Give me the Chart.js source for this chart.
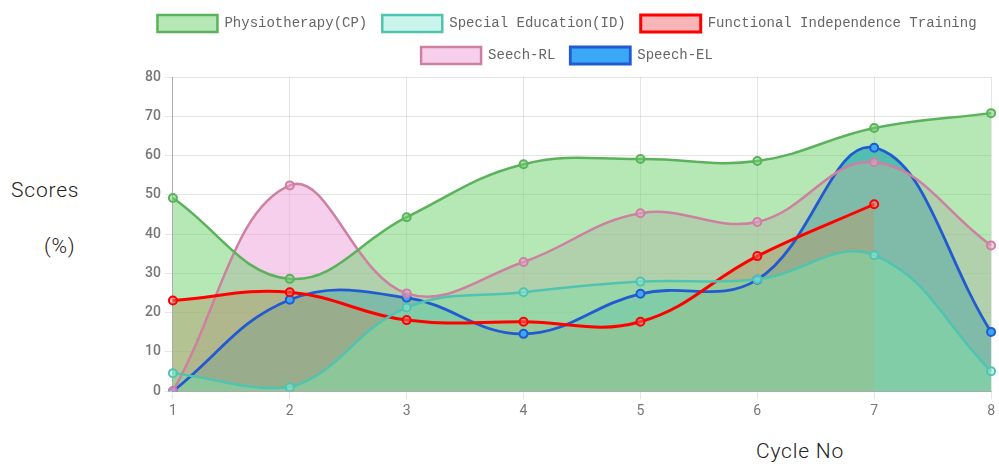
<!DOCTYPE html>
<html>
<head>
<meta charset="utf-8">
<script src="https://cdn.jsdelivr.net/npm/chart.js@4"></script>
<style>
  body { margin: 0; background: #fff; width: 999px; height: 470px; overflow: hidden; position: relative; }
  #wrap { position: absolute; left: 130px; top: 0; width: 869px; height: 424px; }
  .lbl { position: absolute; font-family: Roboto, sans-serif; font-weight: 300; font-size: 21px; letter-spacing: 0.8px; color: #222; line-height: 1; }
</style>
</head>
<body>
<div class="lbl" style="left:11px; top:180px;">Scores</div>
<div class="lbl" style="left:44px; top:236px;">(%)</div>
<div class="lbl" style="left:756px; top:441px;">Cycle No</div>
<div id="wrap"><canvas id="myChart"></canvas></div>
<script>
var cycles = ["1", "2", "3", "4", "5", "6", "7", "8"];
var physio = [49.2, 28.6, 44.3, 57.8, 59.1, 58.6, 67, 70.8];
var specialEd = [4.6, 1, 21.3, 25.2, 27.9, 28.5, 34.6, 5.1];
var fit = [23.1, 25.2, 18.1, 17.7, 17.7, 34.4, 47.6, null];
var speechRL = [0, 52.4, 24.9, 32.9, 45.3, 43.1, 58.3, 37.1];
var speechEL = [0, 23.3, 23.8, 14.6, 24.8, 28.4, 62, 15.1];

window.onload = function() {
  function makeSet(label, data, line, fill, width) {
    return {
      label: label,
      data: data,
      borderColor: line,
      backgroundColor: fill,
      pointBackgroundColor: fill,
      pointBorderColor: line,
      borderWidth: width,
      pointRadius: 4,
      pointBorderWidth: 2,
      tension: 0.4,
      fill: "origin"
    };
  }

  // a bit more room under the legend
  var legendGap = {
    id: "legendGap",
    beforeInit: function(chart) {
      var fit = chart.legend.fit;
      chart.legend.fit = function() {
        fit.bind(chart.legend)();
        this.height += 3;
      };
    }
  };

  const ctx = document.getElementById("myChart").getContext("2d");
  var chart = new Chart(ctx, {
    type: "line",
    data: {
      labels: cycles,
      datasets: [
        makeSet("Physiotherapy(CP)", physio, "rgb(92,178,92)", "rgba(110,210,110,0.5)", 2.5),
        makeSet("Special Education(ID)", specialEd, "rgb(80,196,176)", "rgba(150,235,220,0.5)", 2.5),
        makeSet("Functional Independence Training", fit, "rgb(255,0,0)", "rgba(245,110,110,0.5)", 3),
        makeSet("Seech-RL", speechRL, "rgb(206,128,160)", "rgba(235,160,215,0.5)", 2.5),
        makeSet("Speech-EL", speechEL, "rgb(34,90,210)", "rgba(58,168,245,1)", 2.8)
      ]
    },
    plugins: [legendGap],
    options: {
      responsive: true,
      maintainAspectRatio: false,
      animation: false,
      layout: { padding: { left: 11, right: 6, top: 0, bottom: 0 } },
      plugins: {
        filler: { drawTime: "beforeDatasetsDraw" },
        tooltip: { enabled: false },
        legend: {
          position: "top",
          labels: {
            boxWidth: 60,
            boxHeight: 17,
            padding: 15,
            color: "#666",
            font: { family: "Liberation Mono, monospace", size: 14 }
          }
        }
      },
      scales: {
        x: {
          grid: { color: "rgba(0,0,0,0.1)", tickLength: 8 },
          border: { color: "rgba(0,0,0,0.25)" },
          ticks: { color: "#777", font: { family: "Roboto", size: 14 }, padding: 4 }
        },
        y: {
          min: 0,
          max: 80,
          grid: { color: "rgba(0,0,0,0.1)", tickLength: 8 },
          border: { color: "rgba(0,0,0,0.25)" },
          ticks: { stepSize: 10, color: "#777", font: { family: "Roboto", size: 14, weight: "500" }, padding: 4 }
        }
      }
    }
  });
};
</script>
</body>
</html>
